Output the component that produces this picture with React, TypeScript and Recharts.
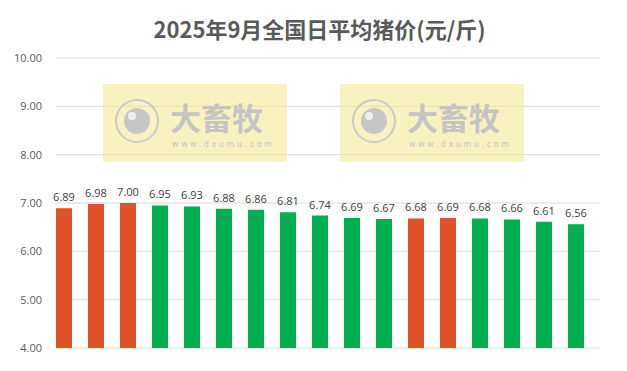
import { BarChart, Bar, XAxis, YAxis, CartesianGrid, Cell, LabelList } from 'recharts';

const DAYS = ['9/1', '9/2', '9/3', '9/4', '9/5', '9/6', '9/7', '9/8', '9/9', '9/10', '9/11', '9/12', '9/13', '9/14', '9/15', '9/16', '9/17'];
const PRICES = [6.89, 6.98, 7.0, 6.95, 6.93, 6.88, 6.86, 6.81, 6.74, 6.69, 6.67, 6.68, 6.69, 6.68, 6.66, 6.61, 6.56];
const Y_TICKS = [4, 5, 6, 7, 8, 9, 10];

const UP_COLOR = '#E05328';
const DOWN_COLOR = '#00B050';
const GRID_COLOR = '#D9D9D9';

const data = DAYS.map((day, i) => ({ day, price: PRICES[i] }));

// excel draws bars at the left half of each category, so gridlines sit 8px to the right
function GridLine(props: any) {
  return (
    <line
      key={`${props.y1}`}
      x1={props.x1 + 8}
      x2={props.x2 + 8}
      y1={props.y1}
      y2={props.y2}
      stroke={GRID_COLOR}
      strokeWidth={1}
    />
  );
}

function Watermark({ left }: { left: number }) {
  return (
    <div
      style={{
        position: 'absolute',
        left,
        top: 84,
        width: 184,
        height: 78,
        background: 'rgba(243, 232, 140, 0.55)',
        pointerEvents: 'none',
      }}
    >
      <svg width={184} height={78}>
        <circle cx={34} cy={37} r={21} fill="none" stroke="#c8c8c8" strokeWidth={2} />
        <circle cx={34} cy={37} r={13} fill="#c6c6c6" />
        <circle cx={29} cy={32} r={4} fill="#eeeeee" />
        <text x={67} y={46} fontFamily="'Noto Sans CJK SC'" fontWeight={700} fontSize={31} fill="#c4c4c4">
          大畜牧
        </text>
        <text x={69} y={63} fontFamily="'DejaVu Sans'" fontSize={8} fill="#c4c4c4" textLength={100}>
          www.dxumu.com
        </text>
      </svg>
    </div>
  );
}

export default function App() {
  return (
    <div style={{ position: 'absolute', left: 0, top: 0, width: 627, height: 371, background: '#fff' }}>
      <div
        style={{
          position: 'absolute',
          top: 12,
          left: 6,
          width: 627,
          textAlign: 'center',
          fontFamily: "'Noto Sans CJK SC'",
          fontWeight: 700,
          fontSize: 22,
          color: '#595959',
        }}
      >
        2025年9月全国日平均猪价(元/斤)
      </div>
      <div style={{ position: 'absolute', left: 0, top: 0 }}>
        <BarChart
          width={627}
          height={371}
          data={data}
          margin={{ top: 58, right: 35, bottom: 23, left: 0 }}
        >
          <CartesianGrid vertical={false} horizontal={GridLine} />
          <XAxis dataKey="day" hide />
          <YAxis
            type="number"
            domain={[4, 10]}
            ticks={Y_TICKS}
            width={48}
            axisLine={false}
            tickLine={false}
            tickMargin={0}
            tickFormatter={(v: number) => v.toFixed(2)}
            tick={{ fill: '#595959', fontSize: 11, fontFamily: "'Open Sans'" }}
          />
          <Bar dataKey="price" barSize={16} fill={DOWN_COLOR} isAnimationActive={false}>
            {data.map((d, i) => (
              <Cell key={d.day} fill={i === 0 || PRICES[i] > PRICES[i - 1] ? UP_COLOR : DOWN_COLOR} />
            ))}
            <LabelList
              dataKey="price"
              position="top"
              offset={7}
              formatter={(v: number) => v.toFixed(2)}
              fill="#404040"
              fontSize={11}
              fontFamily="'Open Sans'"
            />
          </Bar>
        </BarChart>
      </div>
      <Watermark left={103} />
      <Watermark left={340} />
    </div>
  );
}
